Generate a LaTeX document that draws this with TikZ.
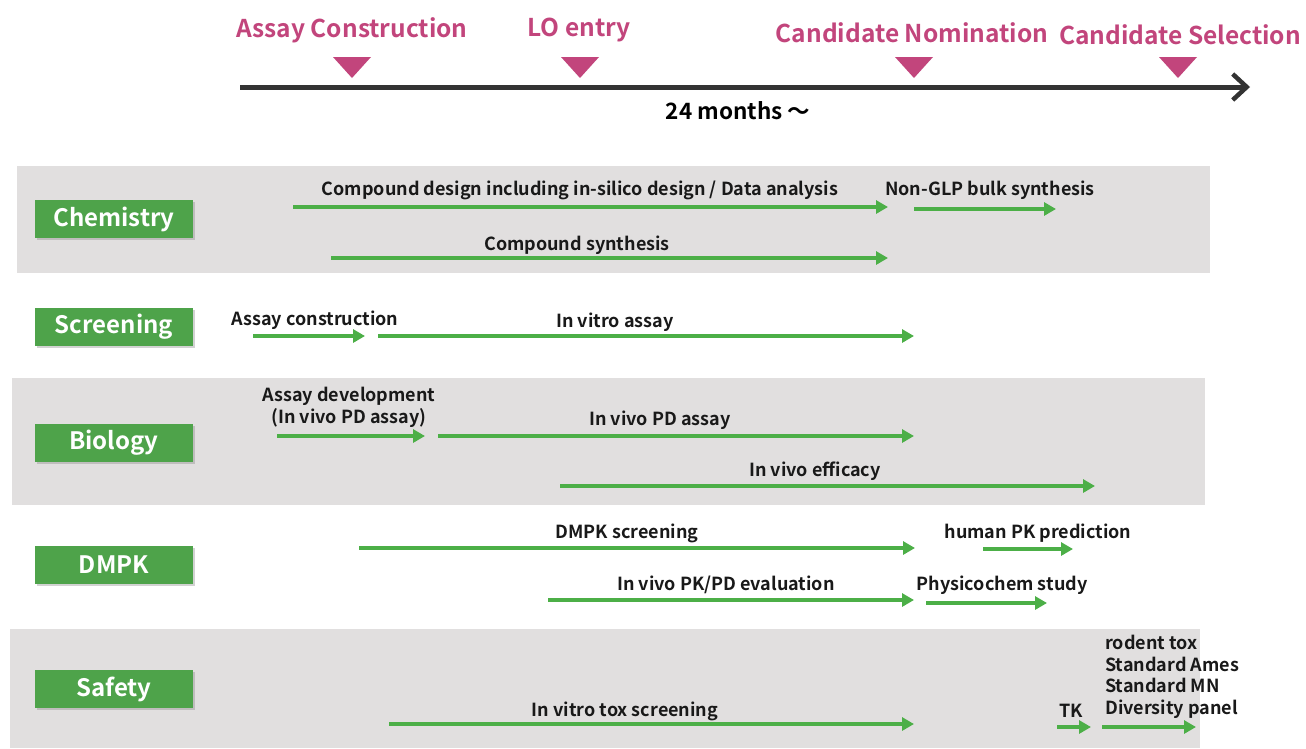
\documentclass[tikz,border=0pt]{standalone}
\usepackage{fontspec}
\setmainfont{Noto Sans CJK JP}[BoldFont={Noto Sans CJK JP Bold}]
\usetikzlibrary{arrows.meta,shadows}
\definecolor{band}{HTML}{E1DFDF}
\definecolor{grn}{HTML}{4EA34A}
\definecolor{arr}{HTML}{4CAF47}
\definecolor{mag}{HTML}{C2457C}
\definecolor{axis}{HTML}{333333}
\tikzset{
  bandbox/.style={fill=band,draw=none},
  cat/.style={fill=grn,text=white,minimum width=158pt,minimum height=38pt,inner sep=0pt,font=\fontsize{24}{27}\selectfont\bfseries,drop shadow={shadow xshift=2pt,shadow yshift=-2pt,opacity=0.35}},
  mile/.style={text=mag,font=\fontsize{24.5}{28}\selectfont\bfseries,inner sep=0pt},
  tri/.style={fill=mag,draw=none},
  lbl/.style={font=\fontsize{18}{21.7}\selectfont\bfseries,inner sep=0pt,text=black!90,yshift=-2pt},
  task/.style={draw=arr,line width=3.5pt,-{Triangle[length=12pt,width=13pt]}},
}
\begin{document}
\begin{tikzpicture}[x=1pt,y=-1pt]
\useasboundingbox (0,0) rectangle (1306,748);
\fill[white] (0,0) rectangle (1306,748);
% bands
\fill[bandbox] (17,166) rectangle (1210,273);
\fill[bandbox] (12,378) rectangle (1205,505);
\fill[bandbox] (10,629) rectangle (1200,748);
% timeline
\coordinate (t0) at (240,87);
\coordinate (t1) at (1250,87);
\draw[axis,line width=5pt,-{Straight Barb[length=14pt,width=26pt,line width=4.5pt]}] (t0) -- (t1);
\node[mile] (m1) at (352,30) {Assay Construction};
\node[mile] (m2) at (579,30) {LO entry};
\node[mile] (m3) at (912,33) {Candidate Nomination};
\node[mile] (m4) at (1180,35) {Candidate Selection};
\foreach \x/\n in {352/1,580/2,914/3,1178/4}{
  \fill[tri] (\x-19,57) -- (\x+19,57) -- (\x,78) -- cycle;
}
\node[font=\fontsize{22.5}{25}\selectfont\bfseries,inner sep=0pt] (dur) at (738,111) {24 months \char"301C};
% categories
\node[cat] (chem) at (114,219) {Chemistry};
\node[cat] (scr) at (114,327) {Screening};
\node[cat] (bio) at (114,443) {Biology};
\node[cat] (dmpk) at (114,565) {DMPK};
\node[cat] (saf) at (114,689) {Safety};
% Chemistry
\node[lbl] (c1) at (580,188) {Compound design including in-silico design / Data analysis};
\coordinate (c1a) at (293,207); \coordinate (c1b) at (888,207);
\draw[task] (c1a) -- (c1b);
\node[lbl] (c2) at (990,188) {Non-GLP bulk synthesis};
\coordinate (c2a) at (914,209); \coordinate (c2b) at (1056,209);
\draw[task] (c2a) -- (c2b);
\node[lbl] (c3) at (577,243) {Compound synthesis};
\coordinate (c3a) at (331,258); \coordinate (c3b) at (888,258);
\draw[task] (c3a) -- (c3b);
% Screening
\node[lbl] (s1) at (315,318) {Assay construction};
\coordinate (s1a) at (253,336); \coordinate (s1b) at (365,336);
\draw[task] (s1a) -- (s1b);
\node[lbl] (s2) at (615,320) {In vitro assay};
\coordinate (s2a) at (378,336); \coordinate (s2b) at (914,336);
\draw[task] (s2a) -- (s2b);
% Biology
\node[lbl,align=center] (b1) at (349,405) {Assay development\\(In vivo PD assay)};
\coordinate (b1a) at (277,436); \coordinate (b1b) at (425,436);
\draw[task] (b1a) -- (b1b);
\node[lbl] (b2) at (660,418) {In vivo PD assay};
\coordinate (b2a) at (438,436); \coordinate (b2b) at (914,436);
\draw[task] (b2a) -- (b2b);
\node[lbl] (b3) at (815,469) {In vivo efficacy};
\coordinate (b3a) at (560,486); \coordinate (b3b) at (1095,486);
\draw[task] (b3a) -- (b3b);
% DMPK
\node[lbl] (d1) at (627,531) {DMPK screening};
\coordinate (d1a) at (359,548); \coordinate (d1b) at (915,548);
\draw[task] (d1a) -- (d1b);
\node[lbl] (d2) at (1038,531) {human PK prediction};
\coordinate (d2a) at (983,549); \coordinate (d2b) at (1073,549);
\draw[task] (d2a) -- (d2b);
\node[lbl] (d3) at (726,583) {In vivo PK/PD evaluation};
\coordinate (d3a) at (548,600); \coordinate (d3b) at (914,600);
\draw[task] (d3a) -- (d3b);
\node[lbl] (d4) at (1002,583) {Physicochem study};
\coordinate (d4a) at (926,603); \coordinate (d4b) at (1047,603);
\draw[task] (d4a) -- (d4b);
% Safety
\node[lbl] (f1) at (625,709) {In vitro tox screening};
\coordinate (f1a) at (389,724); \coordinate (f1b) at (914,724);
\draw[task] (f1a) -- (f1b);
\node[lbl] (f2) at (1071,709) {TK};
\coordinate (f2a) at (1057,727); \coordinate (f2b) at (1091,727);
\draw[task] (f2a) -- (f2b);
\node[lbl,align=left,anchor=north west] (f3) at (1105,633) {rodent tox\\Standard Ames\\Standard MN\\Diversity panel};
\coordinate (f3a) at (1102,727); \coordinate (f3b) at (1196,727);
\draw[task] (f3a) -- (f3b);
\end{tikzpicture}
\end{document}
